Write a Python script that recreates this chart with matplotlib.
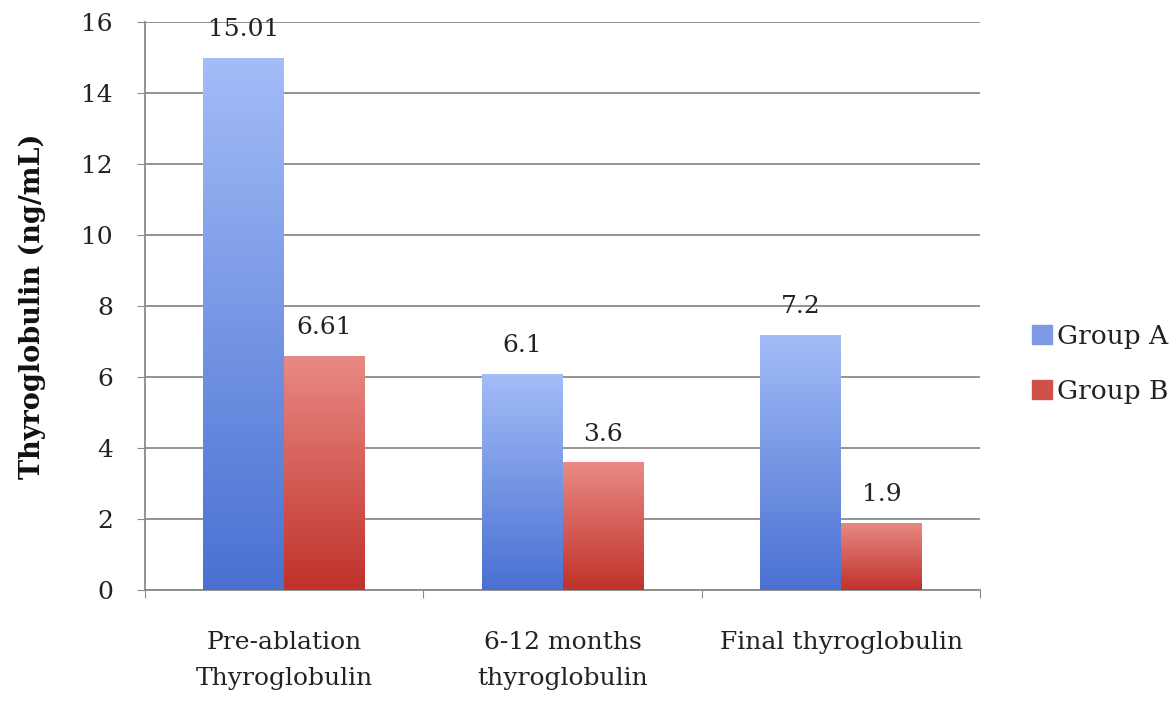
import numpy as np
import matplotlib.pyplot as plt
from matplotlib.colors import LinearSegmentedColormap

categories = ['Pre-ablation\nThyroglobulin', '6-12 months\nthyroglobulin', 'Final thyroglobulin']
group_a = [15.01, 6.1, 7.2]
group_b = [6.61, 3.6, 1.9]
labels_a = ['15.01', '6.1', '7.2']
labels_b = ['6.61', '3.6', '1.9']

plt.rcParams['font.family'] = ['DejaVu Serif']
fs = 18

fig = plt.figure(figsize=(11.74, 7.01), dpi=100)
ax = fig.add_axes([0.1235, 0.158, 0.7115, 0.81])

x = np.arange(len(categories))
w = 0.29

blue_cmap = LinearSegmentedColormap.from_list('b', ['#4a70d2', '#a3bdf7'])
red_cmap = LinearSegmentedColormap.from_list('r', ['#c0322b', '#e98a84'])
grad = np.linspace(0, 1, 256).reshape(-1, 1)


def gradient_bars(bars, cmap):
    for b in bars:
        x0, y0 = b.get_x(), b.get_y()
        x1, y1 = x0 + b.get_width(), y0 + b.get_height()
        im = ax.imshow(grad, cmap=cmap, origin='lower', aspect='auto',
                       extent=[x0, x1, y0, y1], zorder=3)
        im.set_clip_path(b)
        b.set_facecolor('none')


bars_a = ax.bar(x - w / 2, group_a, w, color='#7896e4', zorder=2, label='Group A')
bars_b = ax.bar(x + w / 2, group_b, w, color='#d65a52', zorder=2, label='Group B')
gradient_bars(bars_a, blue_cmap)
gradient_bars(bars_b, red_cmap)

# value labels above the bars
for bars, labs in [(bars_a, labels_a), (bars_b, labels_b)]:
    for b, t in zip(bars, labs):
        ax.annotate(t, (b.get_x() + b.get_width() / 2, b.get_height()),
                    xytext=(0, 12), textcoords='offset points',
                    ha='center', va='bottom', fontsize=fs, color='#222222')

ax.set_xlim(-0.5, 2.5)
ax.set_ylim(0, 16)
ax.set_yticks(range(0, 17, 2))
ax.yaxis.grid(True, color='#8a8a8a', linewidth=1.3)
ax.set_axisbelow(True)

ax.set_xticks([-0.5, 0.5, 1.5, 2.5])
ax.set_xticklabels([])
ax.set_xticks(x, minor=True)
ax.set_xticklabels(categories, minor=True, fontsize=fs, linespacing=1.75, color='#222222')
ax.tick_params(axis='x', which='minor', length=0, pad=29)
ax.tick_params(axis='x', which='major', length=6, color='#8a8a8a')
ax.tick_params(axis='y', length=6, color='#8a8a8a', labelsize=fs, pad=17, labelcolor='#222222')

for s in ['top', 'right']:
    ax.spines[s].set_visible(False)
for s in ['left', 'bottom']:
    ax.spines[s].set_color('#8a8a8a')
    ax.spines[s].set_linewidth(1.3)

fig.text(32 / 1174, 0.563, 'Thyroglobulin (ng/mL)', rotation=90, ha='center', va='center',
         fontsize=19.5, fontweight='bold', color='#111111')

h = [plt.Rectangle((0, 0), 1, 1, color='#7f98e6'), plt.Rectangle((0, 0), 1, 1, color='#d2504a')]
fig.legend(h, ['Group A', 'Group B'], loc='center left', bbox_to_anchor=(0.8586, 0.481),
           frameon=False, fontsize=19, handlelength=0.75, handleheight=0.75,
           handletextpad=0.2, labelspacing=1.15, labelcolor='#222222')

fig.savefig('out.png', dpi=100)
